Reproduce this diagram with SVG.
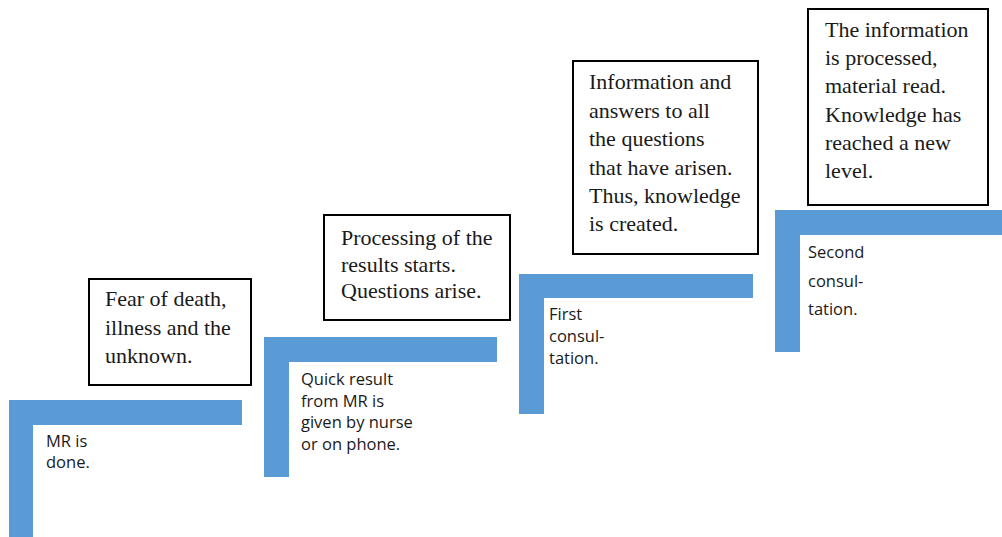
<svg xmlns="http://www.w3.org/2000/svg" width="1002" height="537" viewBox="0 0 1002 537">
  <style>
    .step { fill: #5b9bd5; }
    .box { fill: #ffffff; stroke: #000000; stroke-width: 2; }
    .serif { font-family: "Liberation Serif", "Times New Roman", serif; font-size: 22px; fill: #1a1a1a; }
    .sans { font-family: "Open Sans", "Liberation Sans", sans-serif; font-size: 16.5px; fill: #1a1a1a; }
  </style>
  <rect width="1002" height="537" fill="#ffffff"/>

  <!-- stair steps (blue L shapes) -->
  <g id="step1">
    <path class="step" d="M9 400 H242 V425 H33 V537 H9 Z"/>
    <text class="sans" x="46"><tspan x="46" y="447">MR is</tspan><tspan x="46" y="468">done.</tspan></text>
  </g>
  <g id="step2">
    <path class="step" d="M264 337 H497 V362 H289 V477 H264 Z"/>
    <text class="sans"><tspan x="301" y="385">Quick result</tspan><tspan x="301" y="407">from MR is</tspan><tspan x="301" y="428">given by nurse</tspan><tspan x="301" y="450">or on phone.</tspan></text>
  </g>
  <g id="step3">
    <path class="step" d="M519 274 H753 V298 H544 V414 H519 Z"/>
    <text class="sans"><tspan x="549" y="320">First</tspan><tspan x="549" y="342">consul-</tspan><tspan x="549" y="364">tation.</tspan></text>
  </g>
  <g id="step4">
    <path class="step" d="M775 210 H1002 V235 H800 V352 H775 Z"/>
    <text class="sans"><tspan x="808" y="258">Second</tspan><tspan x="808" y="287">consul-</tspan><tspan x="808" y="315">tation.</tspan></text>
  </g>

  <!-- text boxes above each step -->
  <g id="box1">
    <rect class="box" x="89" y="279" width="162" height="106"/>
    <text class="serif"><tspan x="105" y="306">Fear of death,</tspan><tspan x="105" y="335">illness and the</tspan><tspan x="105" y="363">unknown.</tspan></text>
  </g>
  <g id="box2">
    <rect class="box" x="324" y="215" width="186" height="105"/>
    <text class="serif"><tspan x="341" y="245">Processing of the</tspan><tspan x="341" y="272">results starts.</tspan><tspan x="341" y="298">Questions arise.</tspan></text>
  </g>
  <g id="box3">
    <rect class="box" x="573" y="61" width="185" height="193"/>
    <text class="serif"><tspan x="589" y="89">Information and</tspan><tspan x="589" y="118">answers to all</tspan><tspan x="589" y="146">the questions</tspan><tspan x="589" y="175">that have arisen.</tspan><tspan x="589" y="203">Thus, knowledge</tspan><tspan x="589" y="231">is created.</tspan></text>
  </g>
  <g id="box4">
    <rect class="box" x="808" y="9" width="180" height="196"/>
    <text class="serif"><tspan x="825" y="37">The information</tspan><tspan x="825" y="65">is processed,</tspan><tspan x="825" y="93">material read.</tspan><tspan x="825" y="122">Knowledge has</tspan><tspan x="825" y="150">reached a new</tspan><tspan x="825" y="178">level.</tspan></text>
  </g>

  <g id="connectors"></g>
</svg>
